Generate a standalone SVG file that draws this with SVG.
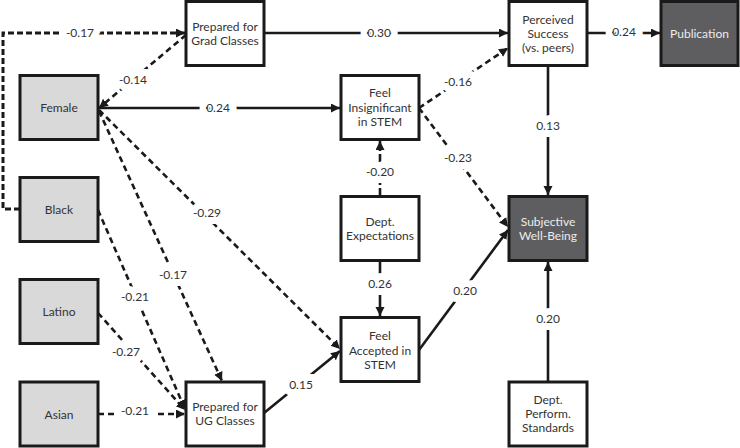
<svg xmlns="http://www.w3.org/2000/svg" width="740" height="448" viewBox="0 0 740 448">
<defs>
<marker id="ah" markerUnits="userSpaceOnUse" markerWidth="10" markerHeight="10" refX="9" refY="4.5" orient="auto">
<path d="M0,0 L9,4.5 L0,9 z" fill="#1a1a1a"/>
</marker>
<style>
.box{stroke:#1a1a1a;stroke-width:3}
.w{fill:#fff}
.g{fill:#d9d9d9}
.d{fill:#5e5e60}
.t{font-family:Lato,"Open Sans","Liberation Sans",sans-serif;font-size:12px;fill:#333;text-anchor:middle}
.tl{fill:#ececec}
.c{fill:none;stroke:#1a1a1a;stroke-width:2.6;marker-end:url(#ah)}
.ds{stroke-dasharray:6,4}
.dd{stroke-dasharray:8,3,3,3}
.lbl{font-family:Lato,"Open Sans","Liberation Sans",sans-serif;font-size:12px;fill:#333;text-anchor:middle;stroke:#fff;stroke-width:14;stroke-linejoin:round;paint-order:stroke}
</style>
</defs>
<rect width="740" height="448" fill="#fff"/>
<g id="connectors">
<path class="c ds" d="M20,209 H3 V33 H185" style="stroke-width:3;stroke-dasharray:6,3"/>
<path class="c ds" d="M186,35 L99,108"/>
<path class="c" d="M99,108 H340"/>
<path class="c ds" d="M99,110 L340,349"/>
<path class="c ds" d="M99,111 L222,381"/>
<path class="c ds" d="M98,210 L185,409"/>
<path class="c ds" d="M98,313 L185,410"/>
<path class="c ds" d="M98,414 H185"/>
<path class="c" d="M264,413 L340,351"/>
<path class="c" d="M264,33 H508"/>
<path class="c ds" d="M419,108 L508,48"/>
<path class="c" d="M587,33 H660"/>
<path class="c" d="M548,66 V195"/>
<path class="c ds" d="M419,108 L508,227"/>
<path class="c dd" d="M380,196 V141"/>
<path class="c" d="M380,261 V316"/>
<path class="c" d="M419,350 L508,230"/>
<path class="c" d="M548,382 V262"/>
</g>
<g id="labels">
<text class="lbl" x="80" y="37">-0.17</text>
<text class="lbl" x="133" y="84">-0.14</text>
<text class="lbl" x="218" y="112">0.24</text>
<text class="lbl" x="379" y="37">0.30</text>
<text class="lbl" x="624" y="36">0.24</text>
<text class="lbl" x="458" y="86">-0.16</text>
<text class="lbl" x="548" y="130">0.13</text>
<text class="lbl" x="380" y="176">-0.20</text>
<text class="lbl" x="458" y="162">-0.23</text>
<text class="lbl" x="380" y="288">0.26</text>
<text class="lbl" x="465" y="295">0.20</text>
<text class="lbl" x="548" y="323">0.20</text>
<text class="lbl" x="207" y="217">-0.29</text>
<text class="lbl" x="173" y="279">-0.17</text>
<text class="lbl" x="135" y="301">-0.21</text>
<text class="lbl" x="126" y="356">-0.27</text>
<text class="lbl" x="135" y="415">-0.21</text>
<text class="lbl" x="301" y="389">0.15</text>
</g>
<g id="grad">
<rect class="box w" x="186" y="1.5" width="78" height="64"/>
<text class="t" x="225" y="31">Prepared for</text>
<text class="t" x="225" y="45">Grad Classes</text>
</g>
<g id="female">
<rect class="box g" x="20" y="75.5" width="78" height="64"/>
<text class="t" x="59" y="112">Female</text>
</g>
<g id="black">
<rect class="box g" x="20" y="177.5" width="78" height="64"/>
<text class="t" x="59" y="214">Black</text>
</g>
<g id="latino">
<rect class="box g" x="20" y="279.5" width="78" height="64"/>
<text class="t" x="59" y="316">Latino</text>
</g>
<g id="asian">
<rect class="box g" x="20" y="382" width="78" height="64"/>
<text class="t" x="59" y="419">Asian</text>
</g>
<g id="ug">
<rect class="box w" x="186" y="382" width="78" height="64"/>
<text class="t" x="225" y="411">Prepared for</text>
<text class="t" x="225" y="425">UG Classes</text>
</g>
<g id="insignificant">
<rect class="box w" x="341" y="75.5" width="78" height="64"/>
<text class="t" x="380" y="97">Feel</text>
<text class="t" x="380" y="112">Insignificant</text>
<text class="t" x="380" y="126">in STEM</text>
</g>
<g id="expectations">
<rect class="box w" x="341" y="196.5" width="78" height="64"/>
<text class="t" x="380" y="226">Dept.</text>
<text class="t" x="380" y="240">Expectations</text>
</g>
<g id="accepted">
<rect class="box w" x="341" y="317.5" width="78" height="64"/>
<text class="t" x="380" y="340">Feel</text>
<text class="t" x="380" y="355">Accepted in</text>
<text class="t" x="380" y="369">STEM</text>
</g>
<g id="perceived">
<rect class="box w" x="509" y="1.5" width="78" height="64"/>
<text class="t" x="548" y="24">Perceived</text>
<text class="t" x="548" y="38">Success</text>
<text class="t" x="548" y="52">(vs. peers)</text>
</g>
<g id="publication">
<rect class="box d" x="661" y="1.5" width="77" height="64"/>
<text class="t tl" x="699.5" y="38">Publication</text>
</g>
<g id="wellbeing">
<rect class="box d" x="509" y="196.5" width="78" height="64"/>
<text class="t tl" x="548" y="226">Subjective</text>
<text class="t tl" x="548" y="240">Well-Being</text>
</g>
<g id="standards">
<rect class="box w" x="509" y="382" width="78" height="64"/>
<text class="t" x="548" y="404">Dept.</text>
<text class="t" x="548" y="418">Perform.</text>
<text class="t" x="548" y="432">Standards</text>
</g>
</svg>
